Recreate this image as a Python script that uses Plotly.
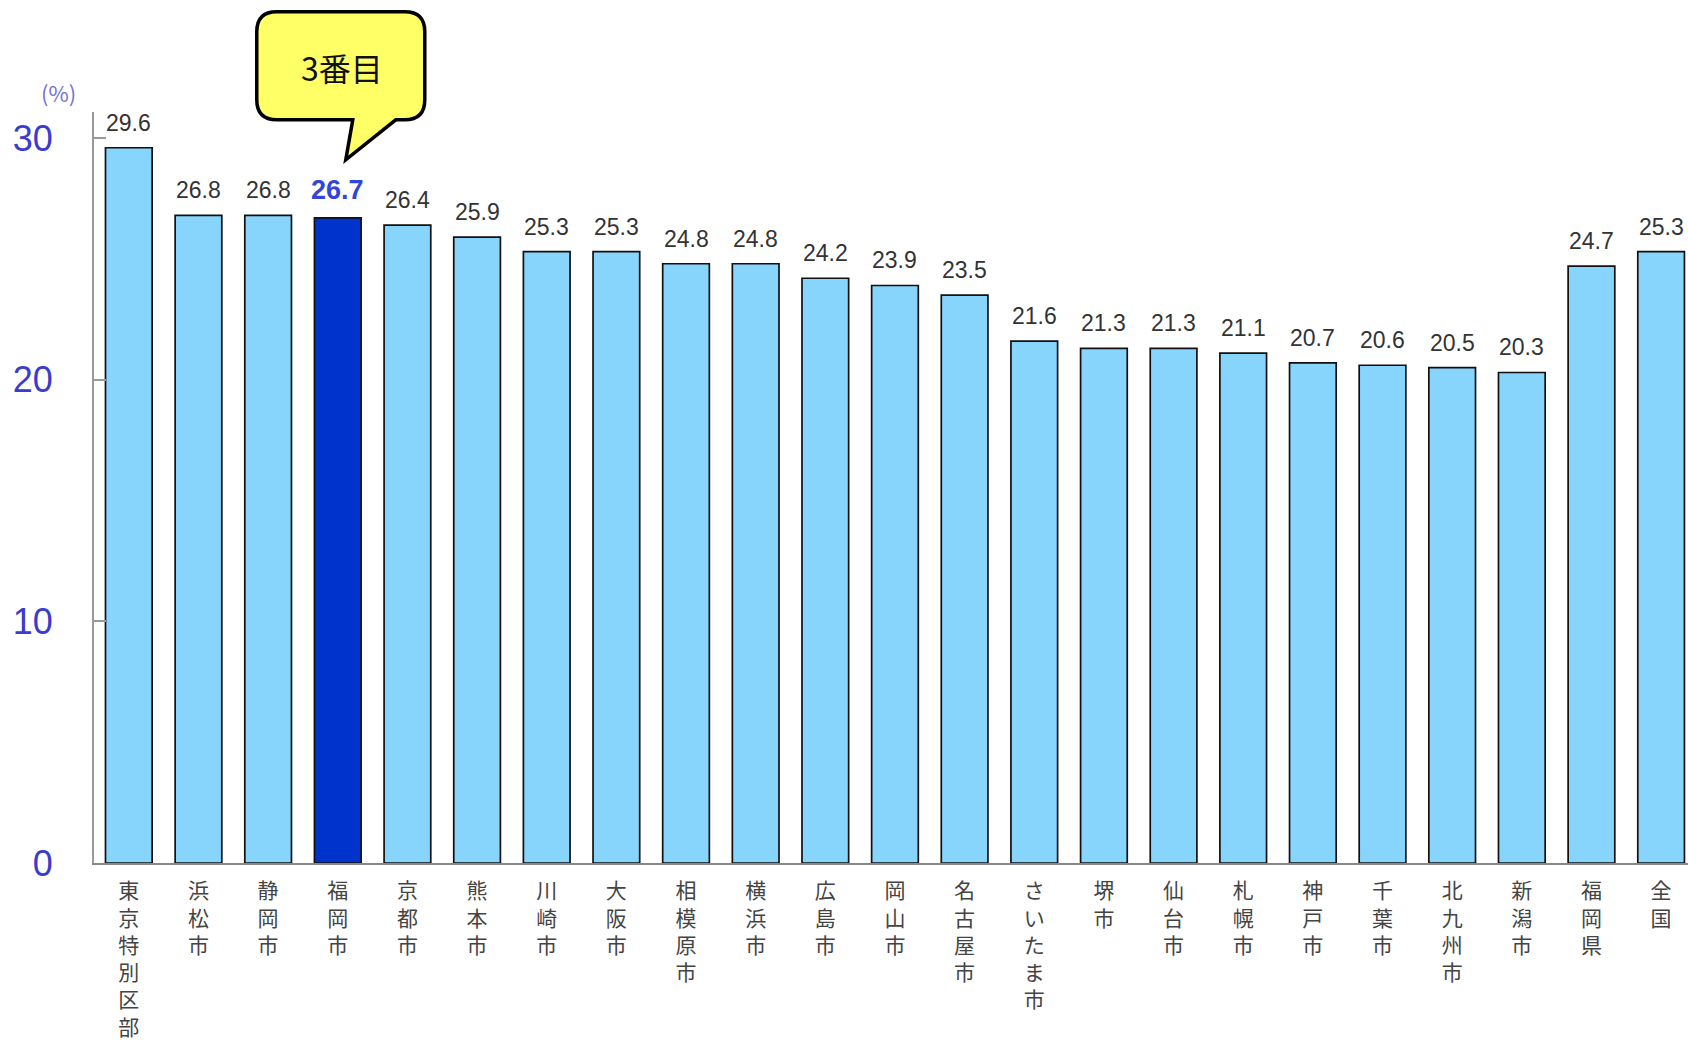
import plotly.graph_objects as go

categories = ["東京特別区部", "浜松市", "静岡市", "福岡市", "京都市", "熊本市", "川崎市", "大阪市",
              "相模原市", "横浜市", "広島市", "岡山市", "名古屋市", "さいたま市", "堺市", "仙台市",
              "札幌市", "神戸市", "千葉市", "北九州市", "新潟市", "福岡県", "全国"]
values = [29.6, 26.8, 26.8, 26.7, 26.4, 25.9, 25.3, 25.3, 24.8, 24.8, 24.2, 23.9, 23.5,
          21.6, 21.3, 21.3, 21.1, 20.7, 20.6, 20.5, 20.3, 24.7, 25.3]
highlight = "福岡市"
y_ticks = [0, 10, 20, 30]

LIGHT = "#87D4FD"
DARK = "#0033CC"
FONT = "Noto Sans CJK JP"
NUMFONT = "Liberation Sans, Arial, sans-serif"

X_RANGE = [-0.5, len(categories) - 0.614]
Y_RANGE = [0, 31.08]

idx = list(range(len(categories)))
colors = [DARK if c == highlight else LIGHT for c in categories]
ticktext = ["<br>".join(list(c)) for c in categories]

fig = go.Figure()
fig.add_trace(go.Bar(
    x=idx, y=values, width=0.67,
    marker=dict(color=colors, line=dict(color="#111111", width=1.7)),
    hoverinfo="skip",
))

hi = categories.index(highlight)
for i, v in enumerate(values):
    if i == hi:
        fig.add_annotation(x=i, y=v, text=f"<b>{v:.1f}</b>", showarrow=False,
                           yanchor="bottom", yshift=11,
                           font=dict(family=NUMFONT, size=27, color="#3345DA"))
    else:
        fig.add_annotation(x=i, y=v, text=f"{v:.1f}", showarrow=False,
                           yanchor="bottom", yshift=10,
                           font=dict(family=NUMFONT, size=23, color="#333333"))

# speech bubble anchored (in paper coords) to the highlighted bar's top
ax_paper = (hi - X_RANGE[0]) / (X_RANGE[1] - X_RANGE[0])
ay_paper = (values[hi] - Y_RANGE[0]) / (Y_RANGE[1] - Y_RANGE[0])
r = 20
L, R, T, B = -81, 87, 206, 98
px0, px1, tipx, tipy = 15, 58, 8, 58
path = (f"M {L+r},{T} L {R-r},{T} Q {R},{T} {R},{T-r} L {R},{B+r} Q {R},{B} {R-r},{B} "
        f"L {px1},{B} L {tipx},{tipy} L {px0},{B} "
        f"L {L+r},{B} Q {L},{B} {L},{B+r} L {L},{T-r} Q {L},{T} {L+r},{T} Z")
fig.add_shape(type="path", path=path, xref="paper", yref="paper",
              xsizemode="pixel", ysizemode="pixel", xanchor=ax_paper, yanchor=ay_paper,
              fillcolor="#FFFF66", line=dict(color="#000000", width=3.5), layer="above")
fig.add_annotation(xref="paper", yref="paper", x=ax_paper, y=ay_paper, text="3番目",
                   showarrow=False, xshift=4, yshift=151, xanchor="center", yanchor="middle",
                   font=dict(family=FONT, size=32, color="#111111"))

fig.add_annotation(xref="paper", yref="paper", x=-0.022, y=1.0 + 20 / 751,
                   xanchor="center", yanchor="middle", text="(%)", showarrow=False,
                   font=dict(family=FONT, size=22, color="#7474D0"))

fig.update_layout(
    width=1688, height=1042,
    margin=dict(l=94, r=0, t=112, b=179),
    paper_bgcolor="white", plot_bgcolor="white",
    showlegend=False,
)
fig.update_xaxes(
    range=X_RANGE, tickmode="array", tickvals=idx, ticktext=ticktext,
    showline=True, linecolor="#888888", linewidth=2, ticks="",
    tickfont=dict(family=FONT, size=21, color="#444444"),
    ticklabelstandoff=8,
    showgrid=False, zeroline=False, tickangle=0,
)
fig.update_yaxes(
    range=Y_RANGE, tickmode="array", tickvals=y_ticks,
    showline=True, linecolor="#999999", linewidth=2,
    ticks="inside", ticklen=12, tickcolor="#999999", tickwidth=1.5,
    tickfont=dict(family=NUMFONT, size=36, color="#3B3BD0"),
    ticklabelstandoff=32,
    showgrid=False, zeroline=False,
)

fig.write_html("out.html", config={"displayModeBar": False},
               post_script="document.body.style.margin='0';document.body.style.overflow='hidden';")
